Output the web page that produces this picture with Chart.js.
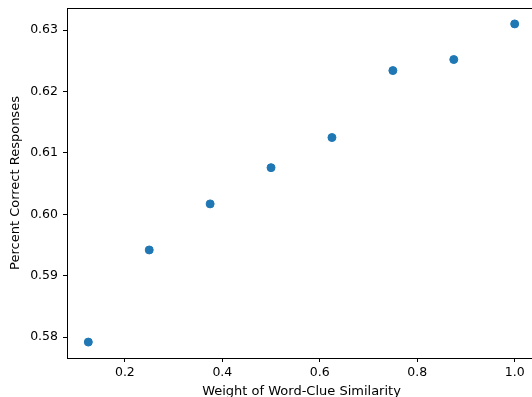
<!DOCTYPE html>
<html>
<head>
<meta charset="utf-8">
<script src="https://cdn.jsdelivr.net/npm/chart.js@4/dist/chart.umd.min.js"></script>
<style>
  html, body { margin: 0; padding: 0; background: #fff; overflow: hidden; }
  #wrap { width: 545px; height: 397px; }
</style>
</head>
<body>
<div id="wrap"><canvas id="chart" width="545" height="397"></canvas></div>
<script>
// weights of word-clue similarity and the resulting accuracy
const weights = [0.125, 0.25, 0.375, 0.5, 0.625, 0.75, 0.875, 1.0];
const pctCorrect = [0.5792, 0.5942, 0.6017, 0.6076, 0.6125, 0.6234, 0.6252, 0.6310];
const xTicks = [0.2, 0.4, 0.6, 0.8, 1.0];
const yTicks = [0.58, 0.59, 0.60, 0.61, 0.62, 0.63];

// matplotlib style 5% margins
function padRange(vals) {
  const lo = Math.min(...vals), hi = Math.max(...vals);
  const m = (hi - lo) * 0.05;
  return [lo - m, hi + m];
}
const [xMin, xMax] = padRange(weights);
const [yMin, yMax] = padRange(pctCorrect);

const tickFont = { family: 'DejaVu Sans', size: 12.5 };
const titleFont = { family: 'DejaVu Sans', size: 13 };

// draw the axes box (spines)
const frame = {
  id: 'frame',
  afterDraw(chart) {
    const a = chart.chartArea, c = chart.ctx;
    c.save();
    c.strokeStyle = '#000';
    c.lineWidth = 1;
    c.strokeRect(Math.round(a.left) + 0.5, Math.round(a.top) + 0.5,
      Math.round(a.right - a.left), Math.round(a.bottom - a.top));
    c.restore();
  }
};

new Chart(document.getElementById('chart'), {
  type: 'scatter',
  data: {
    datasets: [{
      data: weights.map((w, i) => ({ x: w, y: pctCorrect[i] })),
      backgroundColor: '#1f77b4',
      borderColor: '#1f77b4',
      pointRadius: 4,
      pointHoverRadius: 4
    }]
  },
  options: {
    responsive: false,
    animation: false,
    layout: { padding: { left: 0, top: 8, right: 9, bottom: 0 } },
    plugins: { legend: { display: false }, tooltip: { enabled: false } },
    scales: {
      x: {
        type: 'linear',
        min: xMin, max: xMax,
        afterBuildTicks: s => { s.ticks = xTicks.map(v => ({ value: v })); },
        afterFit: s => { s.height = 39; s.paddingLeft = 0; s.paddingRight = 0; },
        grid: { display: true, drawOnChartArea: false, drawTicks: true, tickLength: 4, color: '#000' },
        border: { display: false },
        ticks: { color: '#000', font: tickFont, padding: 3, maxRotation: 0, callback: v => v.toFixed(1) },
        title: { display: true, text: 'Weight of Word-Clue Similarity', color: '#000', font: titleFont, padding: { top: 0, bottom: -2 } }
      },
      y: {
        type: 'linear',
        min: yMin, max: yMax,
        afterBuildTicks: s => { s.ticks = yTicks.map(v => ({ value: v })); },
        afterFit: s => { s.width = 67; s.paddingTop = 0; s.paddingBottom = 0; },
        grid: { display: true, drawOnChartArea: false, drawTicks: true, tickLength: 4, color: '#000' },
        border: { display: false },
        ticks: { color: '#000', font: tickFont, padding: 5, callback: v => v.toFixed(2) },
        title: { display: true, text: 'Percent Correct Responses', color: '#000', font: titleFont, padding: { top: 8, bottom: 0 } }
      }
    }
  },
  plugins: [frame]
});
</script>
</body>
</html>
